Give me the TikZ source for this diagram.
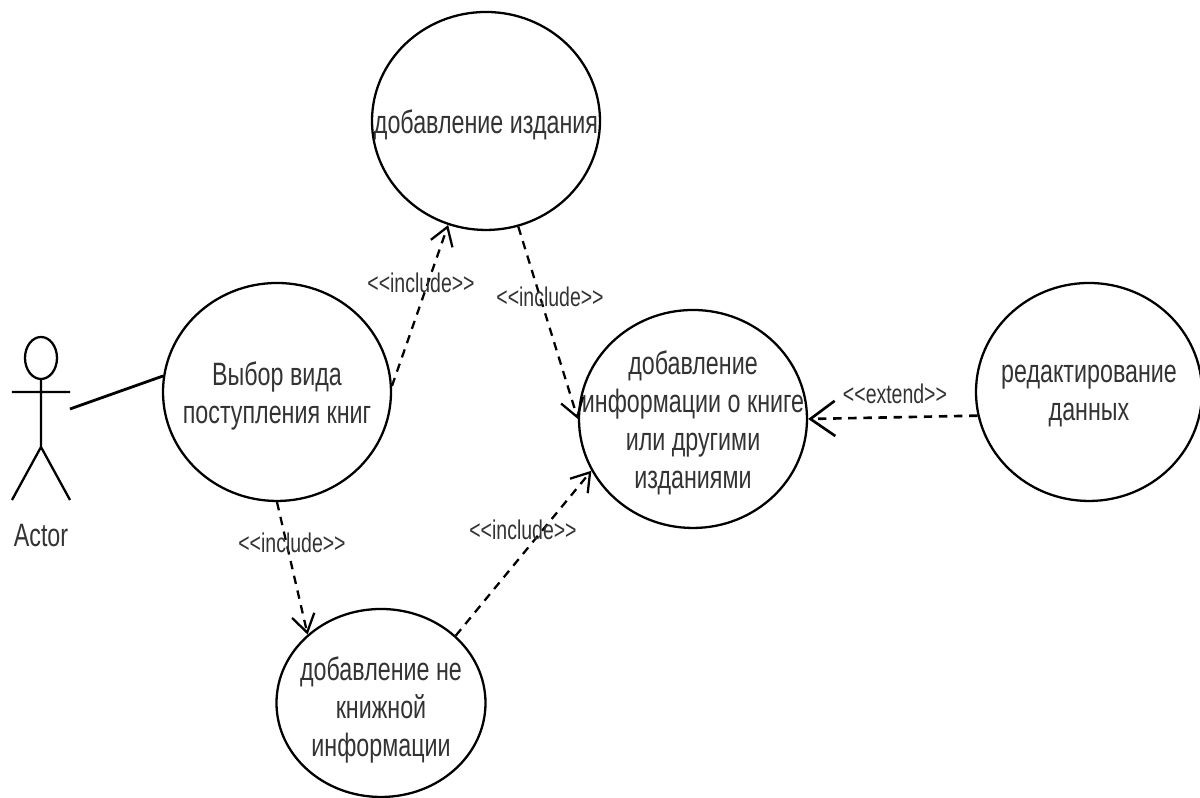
\documentclass[tikz,border=0pt]{standalone}
\usepackage{fontspec}
\setmainfont[FakeStretch=0.72]{Liberation Sans}
\usetikzlibrary{arrows.meta,shapes.geometric}
\tikzset{
usecase/.style={draw,ellipse,inner sep=0pt,line width=0.65pt},
usetext/.style={align=center,font=\fontsize{9.2}{10.8}\selectfont,text=black!80},
steretype/.style={font=\fontsize{7.7}{8}\selectfont,text=black!80,inner sep=0pt},
depend/.style={dashed,dash pattern=on 2.4pt off 1.9pt,line width=0.65pt,-{Straight Barb[length=5pt,width=6.5pt]}},
}
\begin{document}
\begin{tikzpicture}
\useasboundingbox (0,0) rectangle (12,7.98);
% use cases
\node[usecase,minimum width=2.28cm,minimum height=2.18cm,label={[usetext,yshift=-1.1pt]center:добавление издания}] (top) at (4.86,6.77) {};
\node[usecase,minimum width=2.28cm,minimum height=2.18cm,label={[usetext,yshift=-1.1pt]center:{Выбор вида\\поступления книг}}] (choice) at (2.77,4.06) {};
\node[usecase,minimum width=2.28cm,minimum height=2.18cm,label={[usetext,yshift=-1.1pt]center:{добавление\\информации о книге\\или другими\\изданиями}}] (info) at (6.93,3.79) {};
\node[usecase,minimum width=2.26cm,minimum height=2.18cm,label={[usetext,yshift=-1.1pt]center:{редактирование\\данных}}] (edit) at (10.89,4.06) {};
\node[usecase,minimum width=2.09cm,minimum height=1.88cm,label={[usetext,yshift=-2pt]center:{добавление не\\книжной\\информации}}] (other) at (3.81,0.95) {};
% actor
\node[draw,ellipse,inner sep=0pt,minimum width=0.32cm,minimum height=0.42cm,line width=0.65pt] (head) at (0.41,4.40) {};
\coordinate (hip) at (0.41,3.51);
\coordinate (armL) at (0.12,4.06);
\coordinate (armR) at (0.70,4.06);
\coordinate (footL) at (0.12,2.98);
\coordinate (footR) at (0.70,2.98);
\coordinate (hand) at (0.70,3.89);
\draw[line width=0.65pt](head.south)--(hip)--(footL)(hip)--(footR)(armL)--(armR);
\node[usetext] (actor) at (0.41,2.62) {Actor};
\draw[line width=0.8pt](hand)--(choice.172);
% connectors
\foreach \a/\b in {choice.3/top.-110,top.-73/info.180,choice.-90/other.137,other.42/info.207}
{\draw[depend](\a)--(\b);}
\draw[depend,line width=0.75pt,-{Straight Barb[length=7pt,width=10pt]}](edit.192)--(info.0);
% labels
\foreach \n/\x/\y in {inca/4.21/5.15,incb/5.50/5.01,incc/2.92/2.55,incd/5.23/2.68}
{\node[steretype] (\n) at (\x,\y) {<{}<include>{}>};}
\node[steretype] (ext) at (8.95,4.04) {<{}<extend>{}>};
\end{tikzpicture}
\end{document}
